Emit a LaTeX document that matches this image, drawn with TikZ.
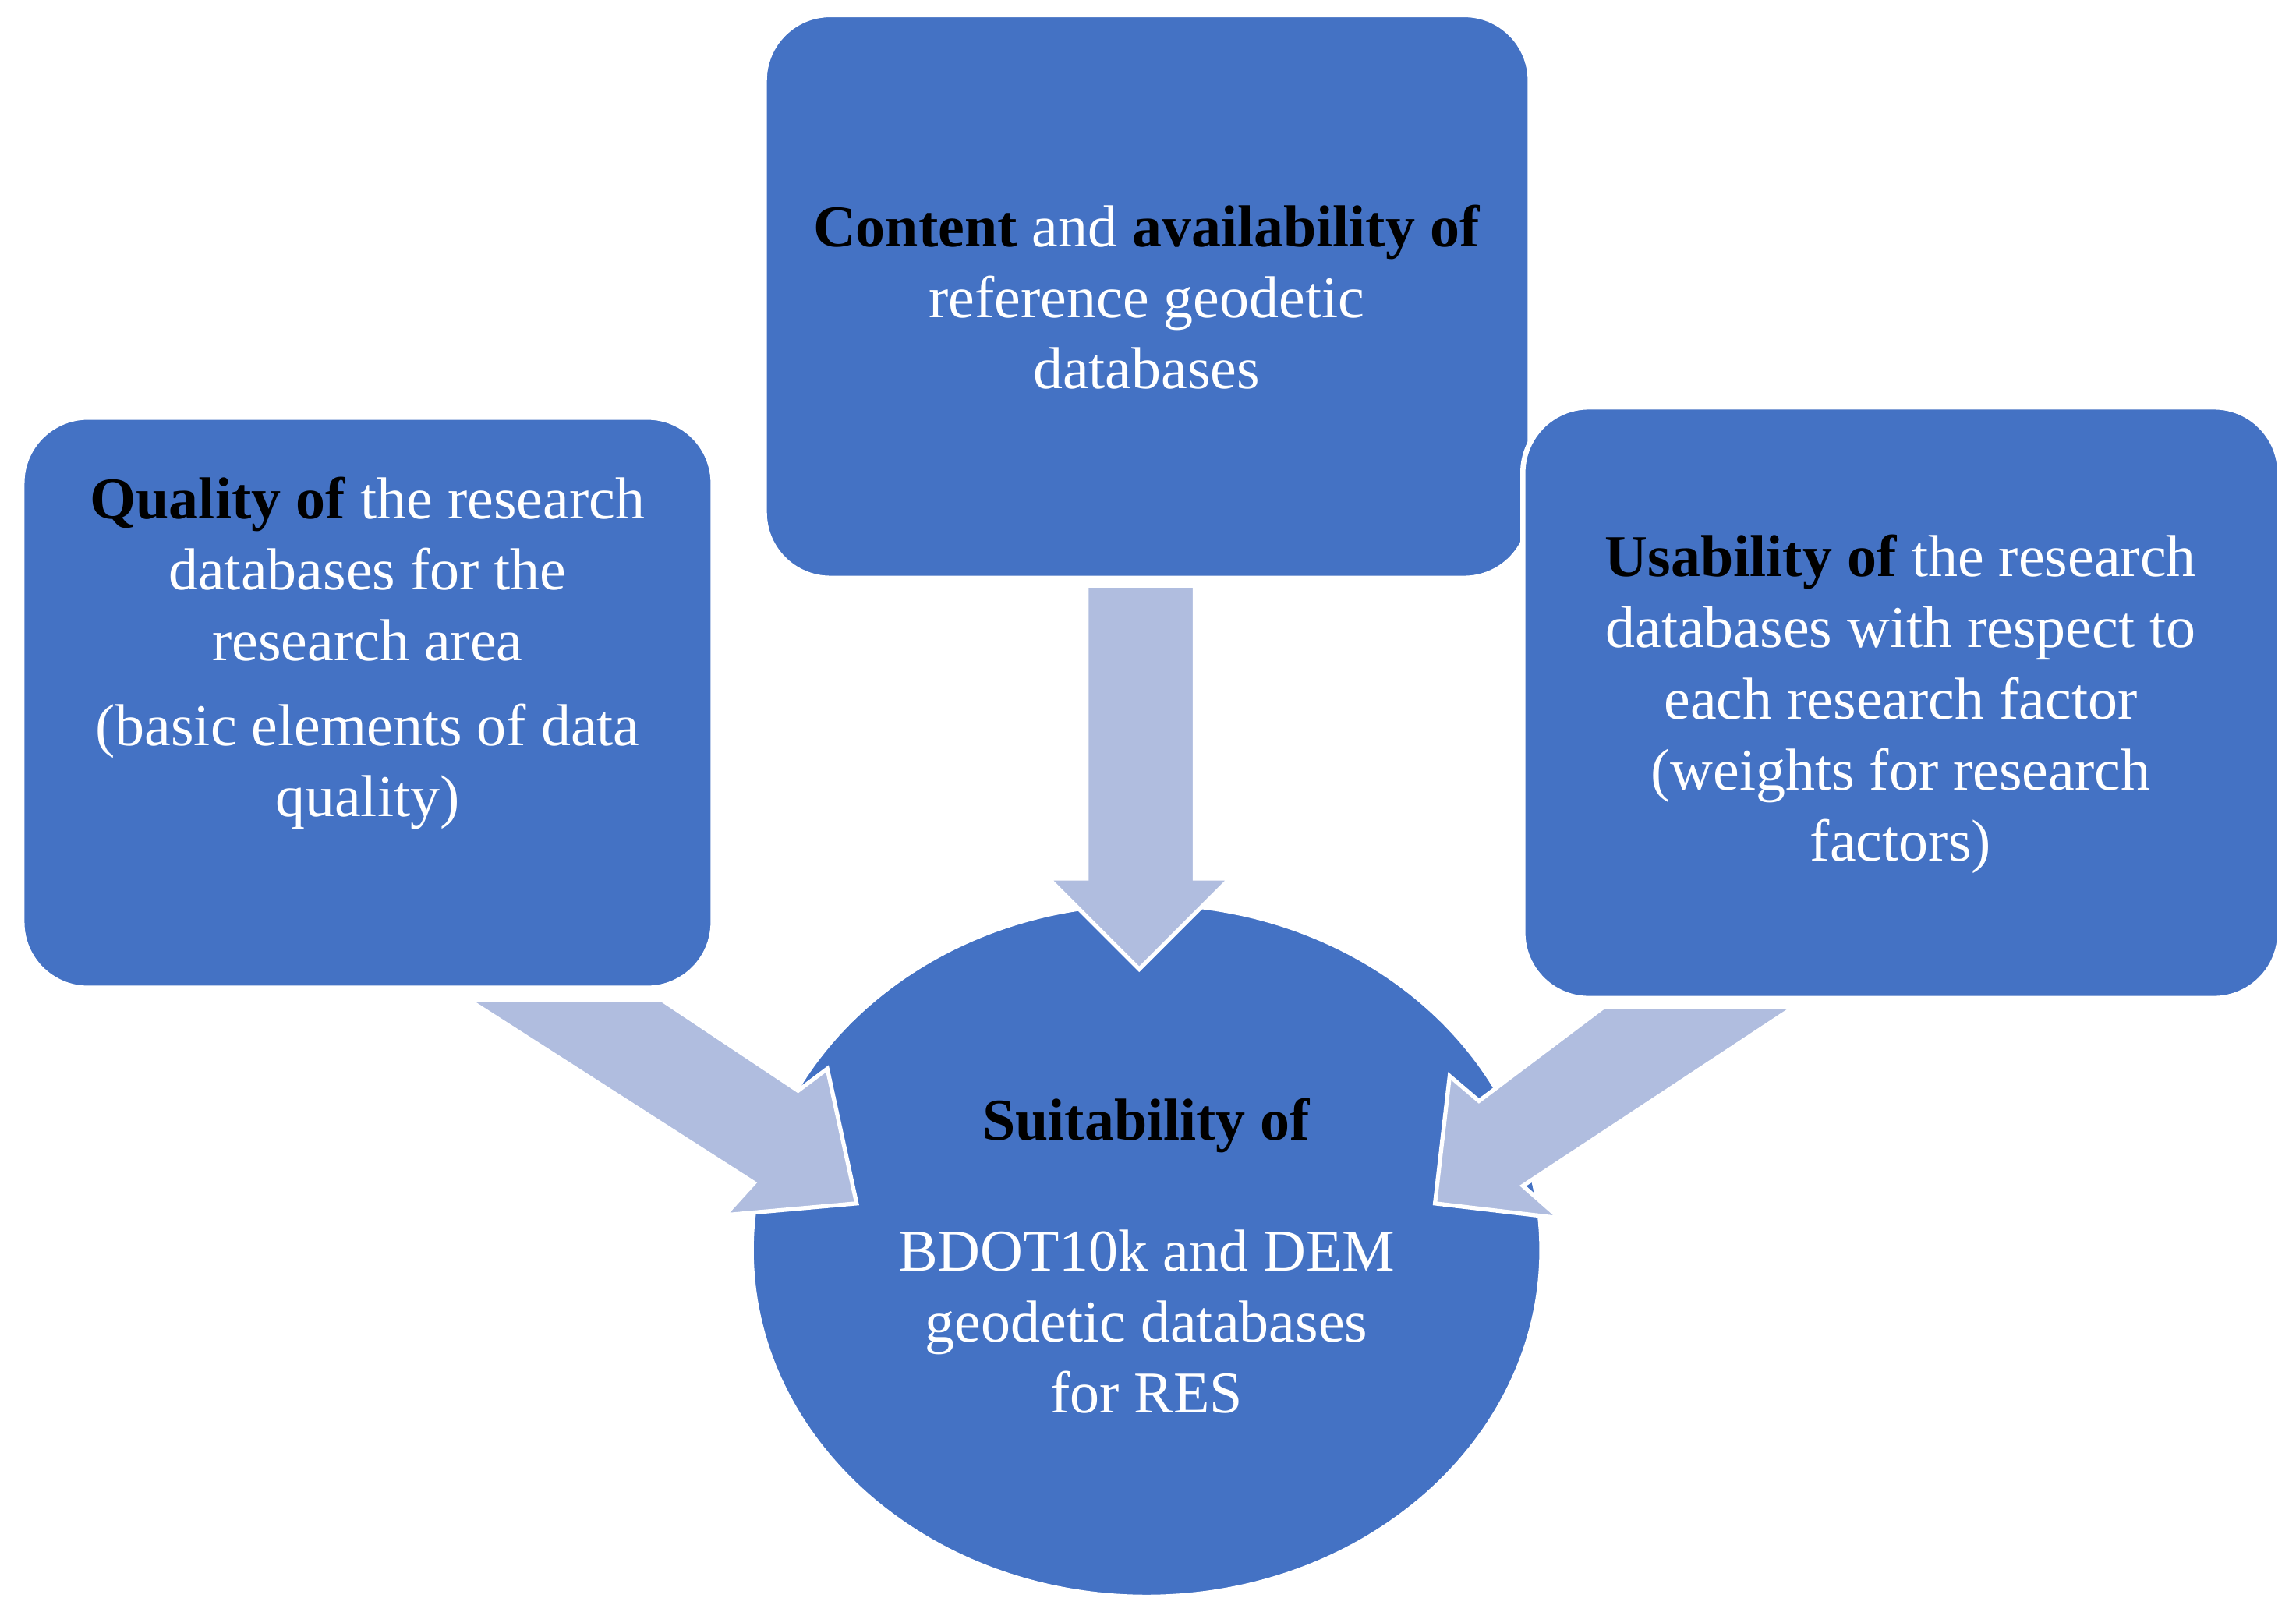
\documentclass[tikz,border=0pt]{standalone}
\usepackage{fontspec}
\setmainfont{Liberation Serif}
\begin{document}
\begin{tikzpicture}[x=0.01cm,y=-0.01cm,
 box/.style={fill=bblue,draw=white,line width=1pt,rounded corners=0.45cm},
 arr/.style={fill=lblue,draw=white,line width=0.8pt},
 txt/.style={text=white,align=center,font=\fontsize{11.5}{13.8}\selectfont},
 k/.style={}]
\definecolor{bblue}{HTML}{4472C4}
\definecolor{lblue}{HTML}{B0BDDF}
\useasboundingbox (0,0) rectangle (1568,1101);
\draw[box] (15,285) rectangle (487,675);
\draw[box] (522,10) rectangle (1045,395);
\draw[box] (1040,278) rectangle (1557,682);
\draw[fill=bblue,draw=white,line width=1pt] (783,854) ellipse [x radius=270,y radius=237];
\node (c) at (783,854) {};
\draw[arr] (742,400) -- (816,400) -- (816,600) -- (840,600) -- (778,662) -- (716,600) -- (742,600) -- cycle;
\draw[arr] (320,683) -- (452,683) -- (545,745) -- (565,730) -- (585,822) -- (495,830) -- (515,808) -- cycle;
\draw[arr] (1225,688) -- (1095,688) -- (1010,752) -- (990,735) -- (980,822) -- (1065,832) -- (1040,810) -- cycle;
\node[txt] (q) at (251,446) {\textcolor{black}{\textbf{Quality of}} the research\\databases for the\\research area\\[0.5ex](basic elements of data\\quality)};
\node[txt] (t) at (783,203) {\textcolor{black}{\textbf{Content}} and \textcolor{black}{\textbf{availability of}}\\reference geodetic\\databases};
\node[txt] (u) at (1298,481) {\textcolor{black}{\textbf{Usability of}} the research\\databases with respect to\\each research factor\\(weights for research\\factors)};
\node[txt] (s) at (783,858) {\textcolor{black}{\textbf{Suitability of}}\\[2.2ex]BDOT10k and DEM\\geodetic databases\\for RES};
\end{tikzpicture}
\end{document}
